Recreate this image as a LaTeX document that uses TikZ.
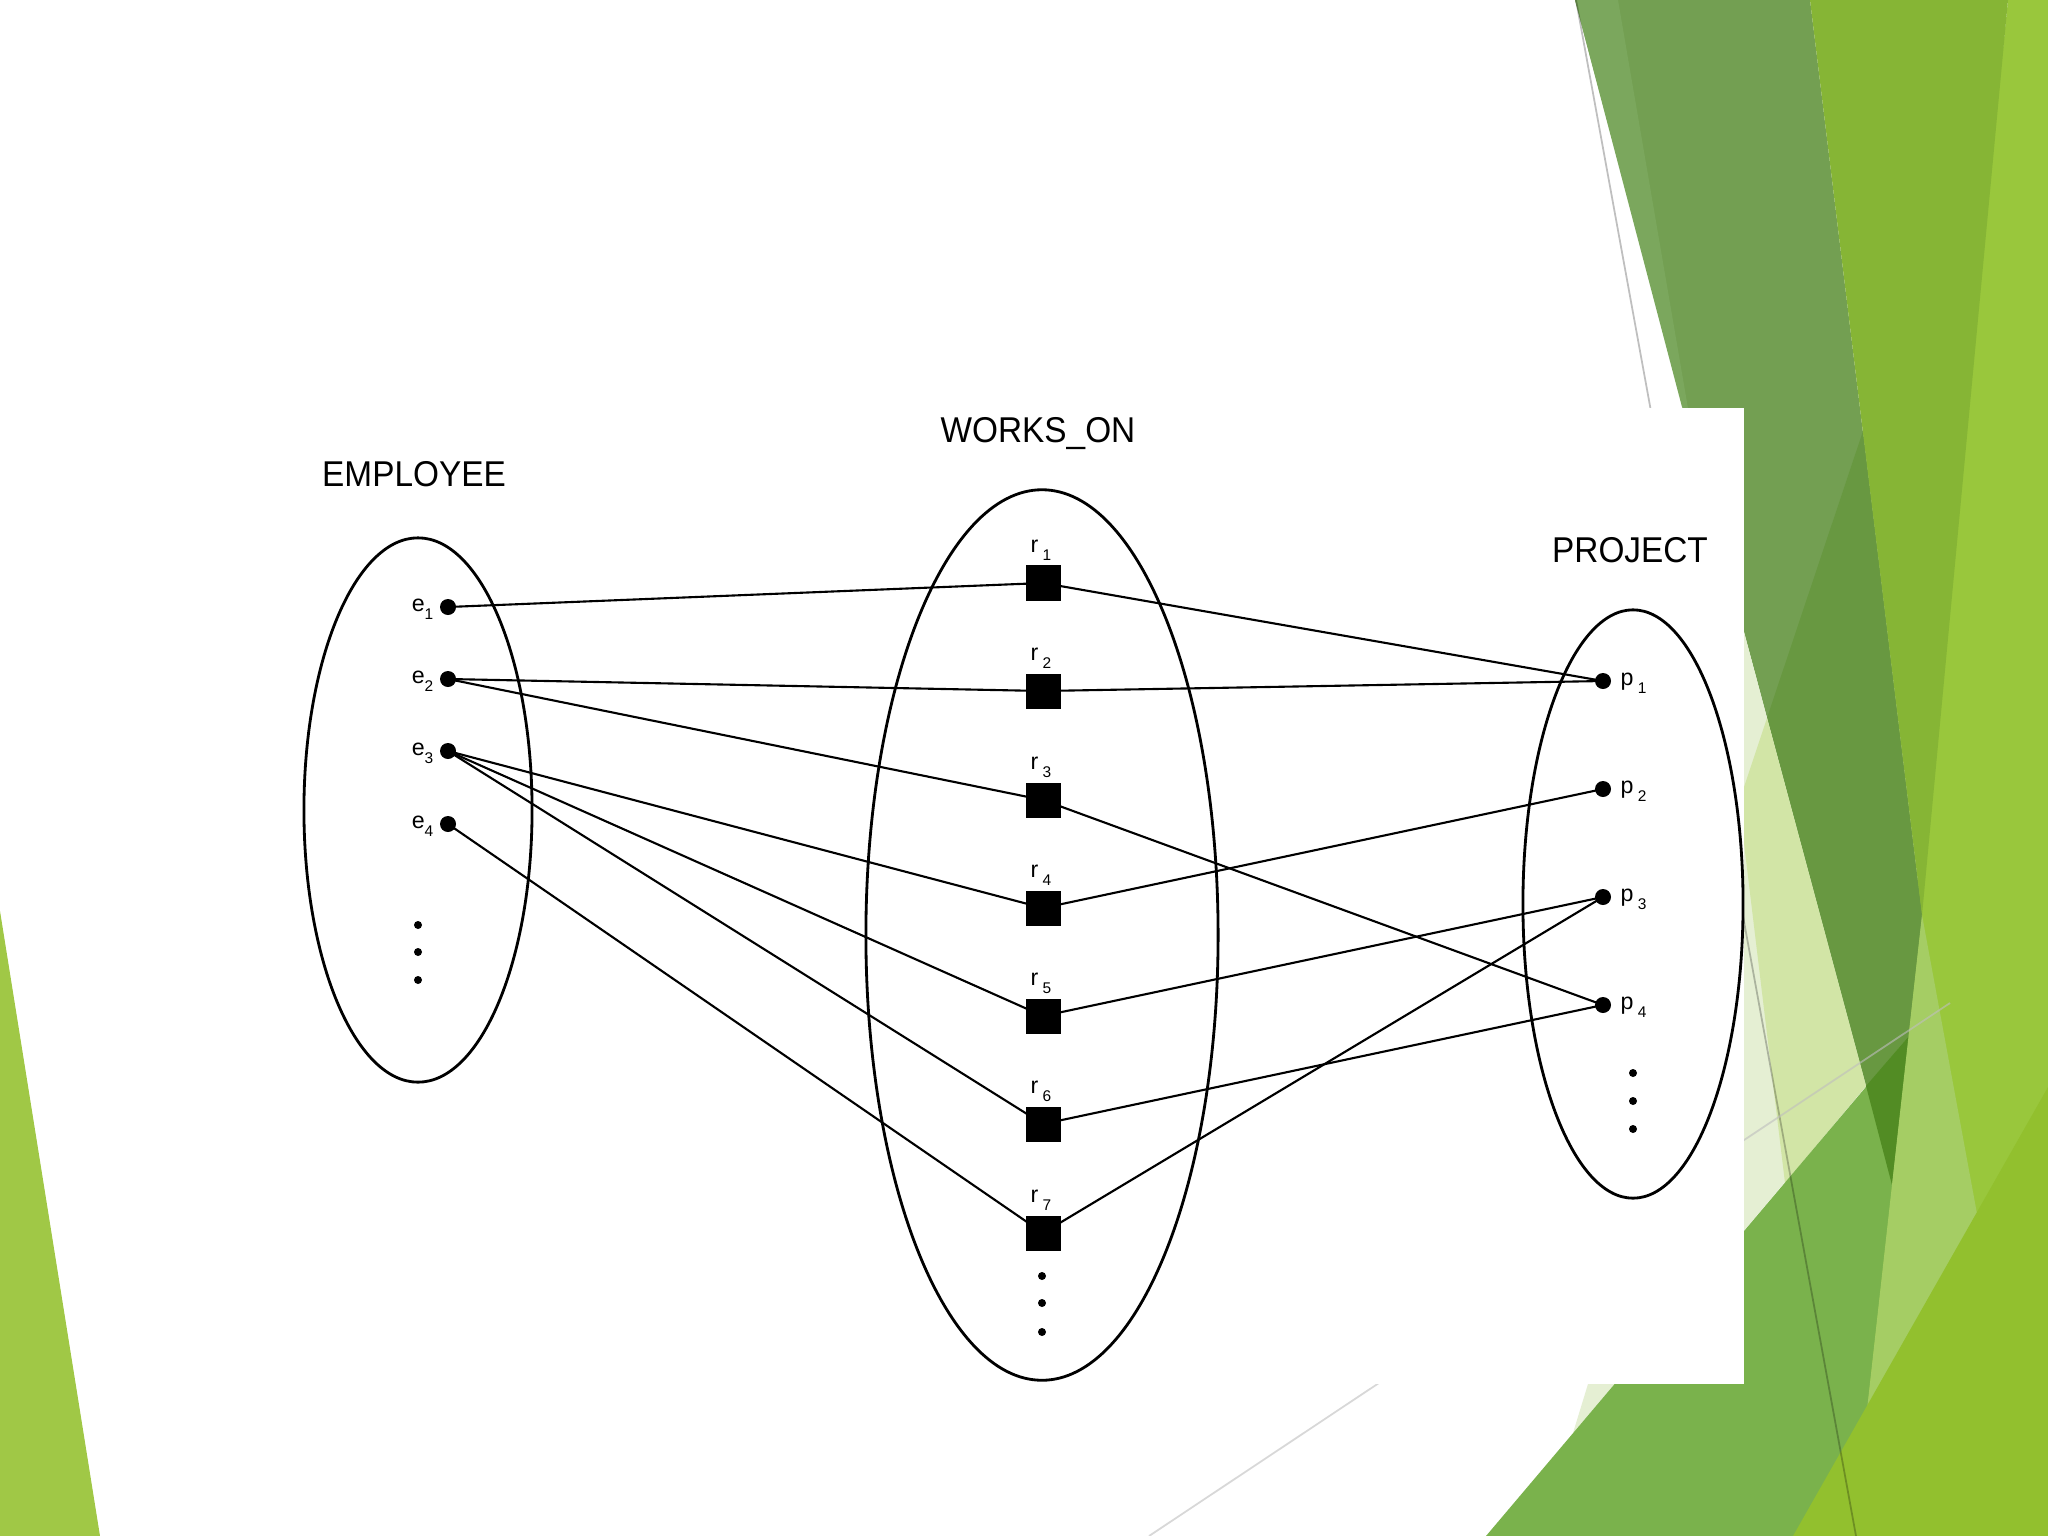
\documentclass[tikz,border=0pt]{standalone}
\usepackage{fontspec}
\setmainfont{Liberation Sans}
\usetikzlibrary{shapes.geometric}
\definecolor{limeband}{RGB}{153,199,60}
\definecolor{brightg}{RGB}{134,181,53}
\definecolor{mutedg}{RGB}{115,159,82}
\definecolor{mutedlight}{RGB}{123,167,93}
\definecolor{darkerg}{RGB}{104,152,65}
\definecolor{paleg}{RGB}{229,239,211}
\definecolor{lightg}{RGB}{210,229,166}
\definecolor{midg}{RGB}{122,178,76}
\definecolor{darkestg}{RGB}{82,140,36}
\definecolor{lightlime}{RGB}{165,205,100}
\definecolor{brlime}{RGB}{146,192,46}
\definecolor{lefttri}{RGB}{160,200,70}
\definecolor{faintline}{RGB}{190,190,190}
\newcommand\sublab[2]{#1\raisebox{-2.4pt}{\fontsize{4.4}{5}\selectfont #2}}
\newcommand\sublabsp[2]{#1\kern1.2pt\raisebox{-2.4pt}{\fontsize{4.4}{5}\selectfont #2}}
\begin{document}
\begin{tikzpicture}[x=0.01cm,y=-0.01cm,
  conn/.style={line width=0.6pt,black},
  setell/.style={draw,ellipse,line width=0.8pt,inner sep=0pt,outer sep=0pt},
  edot/.style={circle,fill=black,inner sep=0pt,minimum size=0.16cm},
  rsq/.style={rectangle,fill=black,inner sep=0pt,minimum size=0.35cm},
  smalldot/.style={circle,fill=black,inner sep=0pt,minimum size=0.08cm},
  biglabel/.style={inner sep=0pt,font=\fontsize{10.2}{12}\selectfont},
  smalllabel/.style={inner sep=0pt,font=\fontsize{6.6}{8}\selectfont}]
\useasboundingbox (0,0) rectangle (2048,1536);
\fill[white] (0,0) rectangle (2048,1536);
% ---- background decoration ----
\fill[lefttri] (0,911) -- (100,1536) -- (0,1536) -- cycle;
\fill[limeband] (2008,0) -- (2048,0) -- (2048,1536) -- (1850,1536) -- cycle;
\fill[mutedg] (1575,0) -- (1810,0) -- (1922,915) -- (1892,1185) -- cycle;
\fill[mutedlight] (1575,0) -- (1618,0) -- (1690,420) -- (1682,407) -- cycle;
\fill[darkerg] (1863,431) -- (1922,915) -- (1892,1185) -- (1767,718) -- cycle;
\fill[paleg] (1690,430) -- (1767,718) -- (1866,1086) -- (1573,1433) -- (1588,1384) -- (1700,1100) -- (1700,430) -- cycle;
\fill[lightg] (1767,718) -- (1866,1086) -- (1785,1183) -- (1739,802) -- cycle;
\fill[midg] (1486,1536) -- (1909,1036) -- (1853,1536) -- cycle;
\fill[darkestg] (1866,1086) -- (1909,1036) -- (1892,1185) -- cycle;
\fill[lightlime] (1922,915) -- (1980,1230) -- (1853,1536) -- (1892,1185) -- cycle;
\fill[brightg] (1810,0) -- (2008,0) -- (1922,915) -- cycle;
\fill[brlime] (1793,1536) -- (2048,1087) -- (2048,1536) -- cycle;
\draw[black,opacity=0.25,line width=0.5pt] (1576,0) -- (1856,1536);
\draw[faintline,opacity=0.6,line width=0.5pt] (1149,1536) -- (1950,1003);
% ---- picture area ----
\fill[white] (200,408) rectangle (1744,1384);
% set ellipses
\node[setell,minimum width=2.28cm,minimum height=5.44cm] (emp) at (418,810) {};
\node[setell,minimum width=3.52cm,minimum height=8.90cm] (wo) at (1042,935) {};
\node[setell,minimum width=2.20cm,minimum height=5.88cm] (proj) at (1633,904) {};
% titles
\node[biglabel,anchor=base] (tEmp) at (414,486) {\scalebox{0.93}[1]{EMPLOYEE}};
\node[biglabel,anchor=base] (tWo) at (1038,442) {\scalebox{0.93}[1]{WORKS\_ON}};
\node[biglabel,anchor=base] (tProj) at (1630,562) {\scalebox{0.93}[1]{PROJECT}};
% employee entities
\foreach \i/\y in {1/607,2/679,3/751,4/824}{
  \node[edot] (e\i) at (448,\y) {};
  \node[smalllabel,anchor=base east] (le\i) at (434,\y+4) {\sublab{e}{\i}};
}
% project entities
\foreach \i/\y in {1/681,2/789,3/897,4/1005}{
  \node[edot] (p\i) at (1603,\y) {};
  \node[smalllabel,anchor=base west] (lp\i) at (1620,\y+4) {\sublabsp{p}{\i}};
}
% relationship instances
\foreach \i/\y in {1/583,2/691,3/800,4/908,5/1016,6/1124,7/1233}{
  \node[rsq] (r\i) at (1043,\y) {};
  \node[smalllabel,anchor=base] (lr\i) at (1041,\y-31) {\sublabsp{r}{\i}};
}
% continuation dots
\node[smalldot] (ed1) at (418,925) {};
\node[smalldot] (ed2) at (418,952) {};
\node[smalldot] (ed3) at (418,980) {};
\node[smalldot] (rd1) at (1042,1276) {};
\node[smalldot] (rd2) at (1042,1303) {};
\node[smalldot] (rd3) at (1042,1332) {};
\node[smalldot] (pd1) at (1633,1073) {};
\node[smalldot] (pd2) at (1633,1101) {};
\node[smalldot] (pd3) at (1633,1129) {};
% connections
\foreach \e/\r/\p in {1/1/1,2/2/1,2/3/4,3/4/2,3/5/3,3/6/4,4/7/3}{
  \draw[conn] (e\e.center) -- (r\r.center) -- (p\p.center);
}
\end{tikzpicture}
\end{document}
